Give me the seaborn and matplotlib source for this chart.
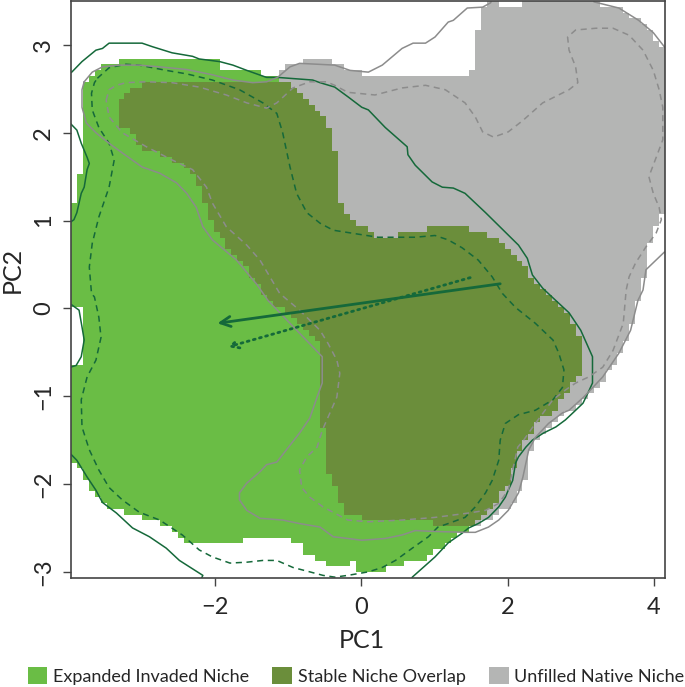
import numpy as np
import matplotlib
matplotlib.use("Agg")
import matplotlib.pyplot as plt
import seaborn as sns
from matplotlib.path import Path
from matplotlib.colors import ListedColormap
from matplotlib.patches import Patch

# ---------- Data (PC1 / PC2 units) ----------
x_limits = [-3.96, 4.15]
y_limits = [-3.07, 3.50]
x_ticks = [-2, 0, 2, 4]
y_ticks = [-3, -2, -1, 0, 1, 2, 3]
grid_cells = 100

legend_labels = ["Expanded Invaded Niche", "Stable Niche Overlap", "Unfilled Native Niche"]
fill_colors = ["#6abd45", "#6b8e3b", "#b4b5b4"]

# occupied part of the invaded range (expanded + stable cells)
invaded_range = [
    (-3.16, 2.85), (-1.96, 2.85), (-1.96, 2.70), (-1.38, 2.70), (-1.38, 2.63), (-1.14, 2.63),
    (-0.97, 2.58), (-0.88, 2.52), (-0.79, 2.43), (-0.70, 2.35), (-0.60, 2.26), (-0.52, 2.17),
    (-0.42, 2.06), (-0.38, 1.95), (-0.33, 1.65), (-0.29, 1.20), (-0.22, 1.12), (-0.15, 1.06),
    (-0.05, 0.98), (0.10, 0.89), (0.26, 0.81), (0.74, 0.87), (1.01, 0.93), (1.40, 0.93),
    (1.66, 0.87), (1.81, 0.81), (1.97, 0.70), (2.14, 0.55), (2.29, 0.41), (2.48, 0.23),
    (2.62, 0.09), (2.79, -0.02), (2.96, -0.27), (3.03, -0.36), (3.03, -0.70), (2.93, -0.78),
    (2.79, -1.01), (2.62, -1.16), (2.42, -1.31), (2.25, -1.47), (2.14, -1.69), (2.04, -1.96),
    (1.88, -2.15), (1.73, -2.30), (1.56, -2.41), (1.47, -2.50), (1.19, -2.67), (0.92, -2.83),
    (0.67, -2.89), (0.33, -2.95), (0.33, -3.02), (-0.05, -3.02), (-0.08, -2.90), (-0.38, -2.95),
    (-0.70, -2.83), (-0.88, -2.67), (-0.97, -2.62), (-1.62, -2.62), (-1.62, -2.67), (-2.38, -2.67),
    (-2.59, -2.49), (-3.07, -2.35), (-3.40, -2.27), (-3.62, -2.15), (-3.86, -1.82), (-4.10, -1.60),
    (-4.10, -0.67), (-3.85, -0.67), (-3.81, -0.55), (-3.81, -0.05), (-3.88, 0.04), (-4.10, 0.04),
    (-4.10, 1.20), (-3.85, 1.20), (-3.81, 2.32), (-3.78, 2.52), (-3.71, 2.62), (-3.58, 2.71),
    (-3.51, 2.77),
]

# occupied part of the native range (stable + unfilled cells)
native_range = [
    (-2.92, 2.58), (-1.14, 2.58), (-1.14, 2.71), (-0.97, 2.77), (-0.70, 2.84), (-0.49, 2.84),
    (-0.38, 2.79), (-0.15, 2.71), (0.10, 2.66), (1.47, 2.66), (1.56, 2.83), (1.56, 3.09),
    (1.66, 3.31), (1.70, 3.60), (1.88, 3.60), (1.88, 3.43), (2.21, 3.43), (2.21, 3.60),
    (3.21, 3.60), (3.30, 3.45), (3.52, 3.42), (3.66, 3.36), (3.79, 3.28), (3.93, 3.17),
    (4.03, 3.06), (4.14, 2.98), (4.30, 2.98), (4.30, 1.09), (4.10, 1.04), (4.03, 0.93),
    (3.93, 0.72), (3.89, 0.47), (3.85, 0.24), (3.79, 0.09), (3.73, -0.17), (3.66, -0.28),
    (3.52, -0.55), (3.34, -0.78), (3.16, -0.93), (2.97, -1.08), (2.75, -1.24), (2.56, -1.39),
    (2.38, -1.53), (2.29, -1.65), (2.27, -1.88), (2.15, -2.10), (2.07, -2.22), (1.93, -2.30),
    (1.73, -2.41), (1.47, -2.50), (0.99, -2.49), (0.99, -2.41), (0.01, -2.41), (0.01, -2.32),
    (-0.22, -2.32), (-0.29, -2.15), (-0.38, -1.99), (-0.47, -1.84), (-0.49, -1.42), (-0.53, -1.35),
    (-0.56, -0.44), (-0.66, -0.33), (-0.74, -0.25), (-0.84, -0.17), (-0.93, -0.10), (-1.07, -0.02),
    (-1.21, 0.06), (-1.29, 0.09), (-1.34, 0.21), (-1.42, 0.32), (-1.56, 0.44), (-1.66, 0.55),
    (-1.75, 0.63), (-1.84, 0.70), (-1.93, 0.86), (-2.03, 0.93), (-2.07, 1.09), (-2.16, 1.23),
    (-2.21, 1.35), (-2.25, 1.50), (-2.34, 1.58), (-2.44, 1.65), (-2.58, 1.69), (-2.66, 1.72),
    (-2.79, 1.77), (-2.89, 1.80), (-2.99, 1.84), (-3.07, 1.92), (-3.14, 2.00), (-3.23, 2.06),
    (-3.32, 2.12), (-3.32, 2.32), (-3.23, 2.43), (-3.07, 2.51),
]

# invaded environment, 100% envelope (solid dark green)
invaded_env_full = [
    (-2.30, -3.30), (-2.16, -3.04), (-2.48, -2.87), (-2.66, -2.73), (-2.89, -2.60), (-3.12, -2.50),
    (-3.34, -2.33), (-3.53, -2.21), (-3.62, -2.07), (-3.74, -1.92), (-3.88, -1.73), (-3.95, -1.67),
    (-4.20, -1.50), (-4.20, -0.67), (-3.97, -0.67), (-3.89, -0.65), (-3.82, -0.55), (-3.78, -0.36),
    (-3.81, -0.21), (-3.85, -0.02), (-3.95, 0.04), (-4.20, 0.10), (-4.20, 0.98), (-3.97, 0.98),
    (-3.92, 1.01), (-3.88, 1.09), (-3.82, 1.31), (-3.78, 1.38), (-3.74, 1.58), (-3.71, 1.65),
    (-3.74, 1.72), (-3.82, 1.88), (-3.88, 2.03), (-3.95, 2.09), (-4.20, 2.30), (-4.20, 2.60),
    (-3.95, 2.69), (-3.81, 2.81), (-3.62, 2.94), (-3.53, 2.96), (-3.44, 3.02), (-3.30, 3.02),
    (-2.99, 3.02), (-2.85, 2.98), (-2.58, 2.91), (-2.30, 2.87), (-2.21, 2.84), (-1.93, 2.81),
    (-1.75, 2.77), (-1.56, 2.71), (-1.29, 2.63), (-1.14, 2.63), (-0.66, 2.60), (-0.56, 2.57),
    (-0.36, 2.52), (-0.18, 2.41), (0.01, 2.29), (0.10, 2.26), (0.33, 2.06), (0.63, 1.84),
    (0.64, 1.75), (0.74, 1.63), (0.97, 1.44), (1.11, 1.38), (1.26, 1.37), (1.42, 1.31),
    (1.70, 1.09), (2.15, 0.72), (2.27, 0.57), (2.34, 0.38), (2.48, 0.23), (2.62, 0.12),
    (2.84, -0.05), (3.00, -0.25), (3.16, -0.55), (3.16, -0.85), (3.10, -0.96), (3.03, -1.08),
    (2.93, -1.16), (2.79, -1.27), (2.66, -1.35), (2.49, -1.42), (2.34, -1.50), (2.25, -1.58),
    (2.15, -1.69), (2.11, -1.76), (2.07, -1.96), (2.01, -2.07), (1.97, -2.15), (1.88, -2.26),
    (1.74, -2.38), (1.60, -2.45), (1.47, -2.50), (1.38, -2.56), (1.19, -2.67), (1.01, -2.83),
    (0.70, -3.06), (0.60, -3.30), (-2.30, -3.30),
]

# invaded environment, 50% envelope (dashed dark green)
invaded_env_half = [
    (-3.60, 2.62), (-3.44, 2.74), (-3.21, 2.78), (-3.03, 2.77), (-2.66, 2.71), (-2.38, 2.67),
    (-2.03, 2.60), (-1.66, 2.49), (-1.34, 2.34), (-1.15, 2.22), (-1.07, 2.00), (-0.97, 1.61),
    (-0.88, 1.31), (-0.74, 1.09), (-0.56, 0.97), (-0.38, 0.89), (-0.15, 0.86), (0.23, 0.81),
    (0.74, 0.81), (1.01, 0.83), (1.19, 0.78), (1.38, 0.69), (1.60, 0.55), (1.79, 0.36),
    (1.93, 0.17), (2.11, 0.01), (2.38, -0.17), (2.62, -0.36), (2.70, -0.51), (2.77, -0.70),
    (2.75, -0.90), (2.62, -1.04), (2.38, -1.16), (2.15, -1.21), (1.97, -1.31), (1.90, -1.50),
    (1.88, -1.73), (1.79, -1.96), (1.70, -2.10), (1.56, -2.26), (1.42, -2.38), (1.19, -2.45),
    (1.05, -2.49), (0.92, -2.60), (0.70, -2.73), (0.47, -2.87), (0.29, -2.95), (0.10, -3.00),
    (-0.18, -3.04), (-0.36, -3.06), (-0.52, -3.04), (-0.70, -3.00), (-0.93, -2.95), (-1.15, -2.87),
    (-1.34, -2.87), (-1.56, -2.89), (-1.79, -2.90), (-2.03, -2.83), (-2.21, -2.75), (-2.44, -2.58),
    (-2.75, -2.41), (-3.03, -2.32), (-3.26, -2.18), (-3.44, -2.04), (-3.58, -1.84), (-3.71, -1.61),
    (-3.81, -1.35), (-3.82, -1.04), (-3.74, -0.78), (-3.62, -0.59), (-3.55, -0.33), (-3.58, -0.10),
    (-3.64, 0.13), (-3.68, 0.17), (-3.71, 0.47), (-3.67, 0.74), (-3.58, 1.04), (-3.44, 1.38),
    (-3.37, 1.69), (-3.44, 1.88), (-3.58, 2.06), (-3.67, 2.26), (-3.68, 2.45), (-3.64, 2.57),
    (-3.60, 2.62),
]

# native environment, 100% envelope (solid grey)
native_env_full = [
    (-3.78, 2.58), (-3.67, 2.69), (-3.53, 2.75), (-3.30, 2.77), (-3.03, 2.77), (-2.75, 2.75),
    (-2.38, 2.72), (-2.03, 2.66), (-1.75, 2.60), (-1.48, 2.57), (-1.29, 2.58), (-1.14, 2.63),
    (-0.97, 2.75), (-0.84, 2.79), (-0.36, 2.77), (-0.15, 2.71), (0.10, 2.69), (0.29, 2.77),
    (0.56, 2.96), (0.71, 3.02), (0.88, 3.02), (1.01, 3.09), (1.19, 3.26), (1.26, 3.28),
    (1.45, 3.42), (1.66, 3.43), (1.77, 3.48), (1.85, 3.70), (3.10, 3.70), (3.18, 3.49),
    (3.52, 3.42), (3.79, 3.28), (3.99, 3.14), (4.14, 2.98), (4.35, 2.80), (4.35, 0.70),
    (4.14, 0.64), (3.99, 0.52), (3.89, 0.44), (3.85, 0.21), (3.78, 0.09), (3.68, -0.25),
    (3.52, -0.51), (3.30, -0.78), (3.04, -1.01), (2.84, -1.16), (2.75, -1.19), (2.56, -1.31),
    (2.38, -1.47), (2.29, -1.61), (2.21, -1.92), (2.15, -2.10), (2.01, -2.30), (1.88, -2.41),
    (1.74, -2.49), (1.56, -2.55), (1.42, -2.55), (1.01, -2.54), (0.74, -2.53), (0.56, -2.58),
    (0.33, -2.62), (0.01, -2.64), (-0.18, -2.62), (-0.38, -2.60), (-0.56, -2.49), (-0.84, -2.45),
    (-1.07, -2.41), (-1.38, -2.39), (-1.56, -2.30), (-1.66, -2.18), (-1.66, -2.10), (-1.56, -1.99),
    (-1.38, -1.86), (-1.29, -1.78), (-1.15, -1.75), (-0.84, -1.42), (-0.70, -1.25), (-0.60, -1.01),
    (-0.53, -0.85), (-0.53, -0.55), (-0.97, -0.17), (-1.27, 0.09), (-1.42, 0.27), (-1.70, 0.55),
    (-2.03, 0.78), (-2.16, 0.93), (-2.25, 1.15), (-2.38, 1.31), (-2.52, 1.43), (-2.75, 1.54),
    (-2.99, 1.61), (-3.26, 1.77), (-3.44, 1.88), (-3.62, 2.00), (-3.75, 2.11), (-3.81, 2.29),
    (-3.81, 2.49), (-3.78, 2.58),
]

# native environment, 50% envelope (dashed grey)
native_env_half = [
    (-3.48, 2.37), (-3.44, 2.49), (-3.34, 2.54), (-3.21, 2.57), (-2.93, 2.58), (-2.58, 2.57),
    (-2.21, 2.52), (-1.84, 2.43), (-1.56, 2.34), (-1.29, 2.28), (-1.15, 2.34), (-0.93, 2.51),
    (-0.70, 2.58), (-0.47, 2.58), (-0.36, 2.54), (-0.18, 2.46), (0.19, 2.43), (0.56, 2.51),
    (0.88, 2.54), (1.15, 2.49), (1.42, 2.34), (1.56, 2.18), (1.66, 2.01), (1.81, 1.95),
    (2.01, 2.01), (2.21, 2.14), (2.48, 2.34), (2.84, 2.49), (2.96, 2.57), (2.93, 2.75),
    (2.84, 2.94), (2.82, 3.09), (2.93, 3.17), (3.21, 3.19), (3.44, 3.19), (3.66, 3.11),
    (3.85, 2.94), (3.99, 2.71), (4.07, 2.49), (4.12, 2.29), (4.12, 1.92), (4.03, 1.72),
    (3.93, 1.50), (3.99, 1.31), (4.07, 1.15), (4.10, 1.01), (4.03, 0.86), (3.89, 0.70),
    (3.75, 0.52), (3.66, 0.36), (3.62, 0.21), (3.58, -0.17), (3.44, -0.48), (3.30, -0.67),
    (3.11, -0.78), (2.93, -0.85), (2.79, -0.93), (2.62, -1.04), (2.38, -1.31), (2.22, -1.50),
    (2.14, -1.58), (2.07, -1.84), (2.01, -2.07), (1.88, -2.22), (1.70, -2.30), (1.47, -2.33),
    (1.01, -2.38), (0.56, -2.41), (0.10, -2.43), (-0.18, -2.41), (-0.25, -2.38), (-0.52, -2.26),
    (-0.70, -2.15), (-0.81, -2.04), (-0.84, -1.84), (-0.74, -1.69), (-0.60, -1.58), (-0.53, -1.39),
    (-0.33, -1.01), (-0.29, -0.74), (-0.33, -0.59), (-0.45, -0.40), (-0.56, -0.25), (-0.84, -0.02),
    (-1.11, 0.17), (-1.38, 0.55), (-1.56, 0.72), (-1.84, 0.93), (-2.03, 1.20), (-2.11, 1.38),
    (-2.30, 1.58), (-2.58, 1.69), (-2.93, 1.84), (-3.26, 2.00), (-3.44, 2.18), (-3.48, 2.37),
]

# centroid shift arrows: (start, end)
shift_full = [(1.90, 0.28), (-1.96, -0.17)]
shift_half = [(1.49, 0.35), (-1.82, -0.44)]

line_green = "#15693a"
line_grey = "#8c8c8c"

# ---------- Figure ----------
sns.set_theme(style="white")
plt.rcParams['font.family'] = ['Lato', 'DejaVu Sans']

fig = plt.figure(figsize=(6.85, 6.87), dpi=100)
ax = fig.add_axes([71 / 685, 109 / 687, 594 / 685, 577 / 687])

# raster of niche categories
x_edges = np.linspace(x_limits[0], x_limits[1], grid_cells + 1)
y_edges = np.linspace(y_limits[0], y_limits[1], grid_cells + 1)
xc = (x_edges[:-1] + x_edges[1:]) / 2
yc = (y_edges[:-1] + y_edges[1:]) / 2
gx, gy = np.meshgrid(xc, yc)
cells = np.column_stack([gx.ravel(), gy.ravel()])
inv = Path(invaded_range).contains_points(cells).reshape(gx.shape)
nat = Path(native_range).contains_points(cells).reshape(gx.shape)

category = np.zeros(gx.shape)
category[inv & ~nat] = 1
category[inv & nat] = 2
category[~inv & nat] = 3
ax.pcolormesh(x_edges, y_edges, np.ma.masked_equal(category, 0),
              cmap=ListedColormap(fill_colors), vmin=0.5, vmax=3.5,
              shading='flat', rasterized=True)

# contour lines
contours = [
    (invaded_env_full, line_green, None),
    (invaded_env_half, line_green, (4, 3)),
    (native_env_full, line_grey, None),
    (native_env_half, line_grey, (4, 3)),
]
for pts, col, dash in contours:
    arr = np.array(pts)
    sns.lineplot(x=arr[:, 0], y=arr[:, 1], sort=False, estimator=None,
                 color=col, lw=1.1, ax=ax)
    if dash is not None:
        ax.lines[-1].set_dashes(dash)

# arrows (solid: whole envelope, dotted: 50% envelope)
ax.annotate("", xy=shift_full[1], xytext=shift_full[0],
            arrowprops=dict(arrowstyle="->,head_length=0.6,head_width=0.3",
                            color=line_green, lw=2.0, shrinkA=0, shrinkB=0))
ax.annotate("", xy=shift_half[1], xytext=shift_half[0],
            arrowprops=dict(arrowstyle="->,head_length=0.5,head_width=0.25",
                            color=line_green, lw=2.0, ls=(0, (0.7, 1.6)),
                            capstyle='round', shrinkA=0, shrinkB=0))

ax.set_xlim(x_limits)
ax.set_ylim(y_limits)
ax.set_xticks(x_ticks)
ax.set_yticks(y_ticks)
ax.tick_params(axis='both', direction='out', length=6, width=1, color='#444444',
               labelsize=17, left=True, bottom=True)
ax.tick_params(axis='x', pad=8)
ax.tick_params(axis='y', pad=6)
plt.setp(ax.get_yticklabels(), rotation=90, va='center')
for s in ax.spines.values():
    s.set_color('#444444')
    s.set_linewidth(1.2)

ax.set_xlabel("PC1", fontsize=18)
ax.set_ylabel("PC2", fontsize=18)
ax.xaxis.set_label_coords(0.49, -0.108)
ax.xaxis.label.set_va('center')
ax.yaxis.set_label_coords(-0.099, 0.534)
ax.yaxis.label.set_va('center')

handles = [Patch(facecolor=c, edgecolor='none', label=l)
           for c, l in zip(fill_colors, legend_labels)]
fig.legend(handles=handles, loc='center', bbox_to_anchor=(356 / 685, 1 - 676 / 687),
           ncol=3, frameon=False, fontsize=13, handlelength=1.1, handleheight=1.1,
           handletextpad=0.3, columnspacing=1.3, borderaxespad=0)

fig.savefig("out.png", dpi=100)
